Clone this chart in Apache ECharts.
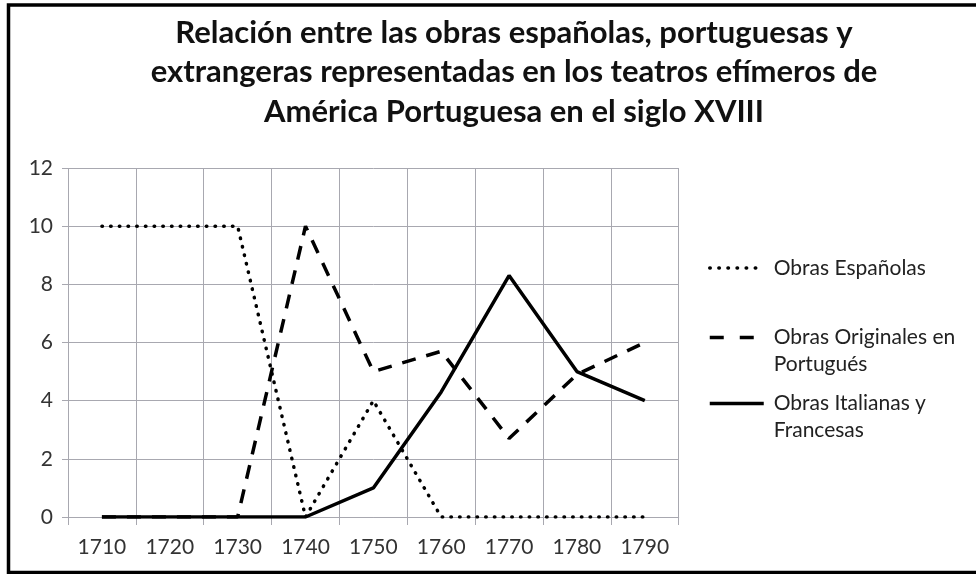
<!DOCTYPE html>
<html>
<head>
<meta charset="utf-8">
<script src="https://cdn.jsdelivr.net/npm/echarts@6/dist/echarts.min.js"></script>
<style>
html,body{margin:0;padding:0;background:#fff;}
#chart{width:976px;height:574px;}
</style>
</head>
<body>
<div id="chart"></div>
<script>
const titleText = 'Relación entre las obras españolas, portuguesas y\nextrangeras representadas en los teatros efímeros de\nAmérica Portuguesa en el siglo XVIII';
const categories = ['1710','1720','1730','1740','1750','1760','1770','1780','1790'];
const seriesNames = ['Obras Españolas','Obras Originales en\nPortugués','Obras Italianas y\nFrancesas'];
const espanolas = [10,10,10,0,4,0,0,0,0];
const originales = [0,0,0,10,5,5.7,2.7,4.9,6];
const italianas = [0,0,0,0,1,4.3,8.3,5,4];

const FONT = 'Lato, "Liberation Sans", sans-serif';
const grid = '#a8a8b0';
const chart = echarts.init(document.getElementById('chart'), null, {renderer:'canvas'});

const legendText = {fontFamily: FONT, fontSize: 21, color: '#222', lineHeight: 27, padding: [0, 0, 0, 5]};
function legendFor(name, top, lineStyle) {
  return {
    data: [name], left: 708, top: top, orient: 'vertical', padding: 0,
    itemWidth: 54, itemHeight: 14, itemGap: 0, selectedMode: false,
    itemStyle: {opacity: 0, color: 'transparent', borderWidth: 0},
    lineStyle: Object.assign({color: '#000', width: 3.5}, lineStyle),
    textStyle: legendText,
    formatter: n => n.indexOf('\n') >= 0 ? '\n' + n : n
  };
}

chart.setOption({
  animation: false,
  backgroundColor: '#fff',
  title: {
    text: titleText, left: 509, top: 8, textAlign: 'center',
    textStyle: {fontFamily: FONT, fontWeight: 'bold', fontSize: 31, lineHeight: 39.5, color: '#111'}
  },
  graphic: [{
    type: 'rect', shape: {x: 8.5, y: 5, width: 1000, height: 567.5},
    style: {fill: 'none', stroke: '#000', lineWidth: 3.5}, silent: true
  }],
  grid: {left: 68, right: 297.3, top: 168, bottom: 57},
  legend: [
    legendFor(seriesNames[0], 254.5, {type: [0.5, 8.6], cap: 'round'}),
    legendFor(seriesNames[1], 297, {type: [14, 16], cap: 'butt'}),
    legendFor(seriesNames[2], 363, {type: 'solid'})
  ],
  xAxis: {
    type: 'category', data: categories, boundaryGap: true,
    axisLine: {show: true, lineStyle: {color: grid, width: 1}},
    axisTick: {show: true, length: 8, lineStyle: {color: grid}},
    splitLine: {show: true, lineStyle: {color: grid, width: 1}},
    axisLabel: {fontFamily: FONT, fontSize: 21, color: '#333', margin: 20}
  },
  yAxis: {
    type: 'value', min: 0, max: 12, interval: 2,
    axisLine: {show: false},
    axisTick: {show: true, length: 6, lineStyle: {color: grid}},
    splitLine: {show: true, lineStyle: {color: grid, width: 1}},
    axisLabel: {fontFamily: FONT, fontSize: 21, color: '#333', margin: 15}
  },
  series: [
    {name: seriesNames[0], type: 'line', data: espanolas, showSymbol: false, symbol: 'none',
     lineStyle: {color: '#000', width: 3.5, type: [0.5, 8.2], cap: 'round'}, itemStyle: {color: '#000'}},
    {name: seriesNames[1], type: 'line', data: originales, showSymbol: false, symbol: 'none',
     lineStyle: {color: '#000', width: 3.5, type: [14, 11], cap: 'butt'}, itemStyle: {color: '#000'}},
    {name: seriesNames[2], type: 'line', data: italianas, showSymbol: false, symbol: 'none',
     lineStyle: {color: '#000', width: 3.5, type: 'solid'}, itemStyle: {color: '#000'}}
  ]
});
</script>
</body>
</html>
